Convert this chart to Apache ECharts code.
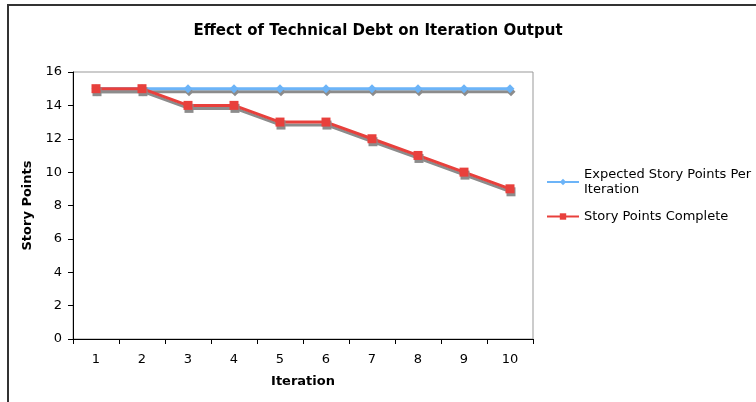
<!DOCTYPE html>
<html>
<head>
    <meta charset="utf-8">
    <title>Effect of Technical Debt on Iteration Output</title>
    <script src="https://cdn.jsdelivr.net/npm/echarts@6/dist/echarts.min.js"></script>
    <style>
        html, body { margin: 0; padding: 0; background: #fff; }
    </style>
</head>
<body>
<div id="main" style="width: 756px;height:402px;"></div>
<script type="text/javascript">
    // data
    var iterations = ['1', '2', '3', '4', '5', '6', '7', '8', '9', '10'];
    var expectedPoints = [15, 15, 15, 15, 15, 15, 15, 15, 15, 15];
    var completedPoints = [15, 15, 14, 14, 13, 13, 12, 11, 10, 9];
    var seriesNames = ['Expected Story Points Per Iteration', 'Story Points Complete'];

    var FONT = '"DejaVu Sans", Verdana, sans-serif';

    var myChart = echarts.init(document.getElementById('main'));

    // gray drop shadow like the old spreadsheet charts
    var shadow = {
        shadowColor: '#8c8c8c',
        shadowBlur: 0,
        shadowOffsetX: 1,
        shadowOffsetY: 3
    };

    var option = {
        animation: false,
        backgroundColor: '#fff',
        graphic: [{
            type: 'rect',
            shape: {x: 8, y: 5, width: 800, height: 450},
            style: {fill: 'none', stroke: '#333', lineWidth: 2},
            silent: true
        }],
        title: {
            text: 'Effect of Technical Debt on Iteration Output',
            left: 'center',
            top: 19,
            textStyle: {
                fontFamily: FONT,
                fontSize: 15,
                fontWeight: 'bold',
                color: '#000'
            }
        },
        legend: [{
            orient: 'vertical',
            left: 546,
            top: 159,
            padding: 0,
            itemWidth: 32,
            itemHeight: 8,
            formatter: function (name) {
                return name.replace(' Per ', ' Per\n');
            },
            textStyle: {
                fontFamily: FONT,
                fontSize: 13,
                color: '#000',
                lineHeight: 15,
                padding: [16, 0, 0, 0]
            },
            data: [seriesNames[0]]
        }, {
            orient: 'vertical',
            left: 546,
            top: 210,
            padding: 0,
            itemWidth: 32,
            itemHeight: 8,
            textStyle: {
                fontFamily: FONT,
                fontSize: 13,
                color: '#000'
            },
            data: [seriesNames[1]]
        }],
        grid: {
            left: 73,
            top: 72,
            right: 223,
            bottom: 63,
            show: true,
            borderColor: '#999',
            borderWidth: 1,
            backgroundColor: '#fff'
        },
        xAxis: {
            type: 'category',
            data: iterations,
            boundaryGap: true,
            name: 'Iteration',
            nameLocation: 'middle',
            nameGap: 36,
            nameTextStyle: {
                fontFamily: FONT,
                fontSize: 13,
                fontWeight: 'bold',
                color: '#000'
            },
            axisLine: {lineStyle: {color: '#000', width: 1}},
            axisTick: {show: true, alignWithLabel: false, length: 5, lineStyle: {color: '#000'}},
            axisLabel: {
                fontFamily: FONT,
                fontSize: 13,
                color: '#000',
                margin: 14
            },
            splitLine: {show: false}
        },
        yAxis: {
            type: 'value',
            min: 0,
            max: 16,
            interval: 2,
            name: 'Story Points',
            nameLocation: 'middle',
            nameGap: 34,
            nameTextStyle: {
                fontFamily: FONT,
                fontSize: 13,
                fontWeight: 'bold',
                color: '#000'
            },
            axisLine: {show: true, lineStyle: {color: '#000', width: 1}},
            axisTick: {show: true, length: 5, lineStyle: {color: '#000'}},
            axisLabel: {
                fontFamily: FONT,
                fontSize: 13,
                color: '#000',
                margin: 11
            },
            splitLine: {show: false}
        },
        series: [{
            name: seriesNames[0],
            type: 'line',
            data: expectedPoints,
            symbol: 'diamond',
            symbolSize: 9,
            showAllSymbol: true,
            color: '#6cb4f8',
            lineStyle: Object.assign({width: 3, color: '#6cb4f8'}, shadow),
            itemStyle: Object.assign({color: '#6cb4f8', borderWidth: 0}, shadow),
            z: 2
        }, {
            name: seriesNames[1],
            type: 'line',
            data: completedPoints,
            symbol: 'rect',
            symbolSize: 9,
            showAllSymbol: true,
            color: '#e8403c',
            lineStyle: Object.assign({width: 3, color: '#e8403c'}, shadow),
            itemStyle: Object.assign({color: '#e8403c', borderWidth: 0}, shadow),
            z: 3
        }]
    };

    myChart.setOption(option);
</script>
</body>
</html>
